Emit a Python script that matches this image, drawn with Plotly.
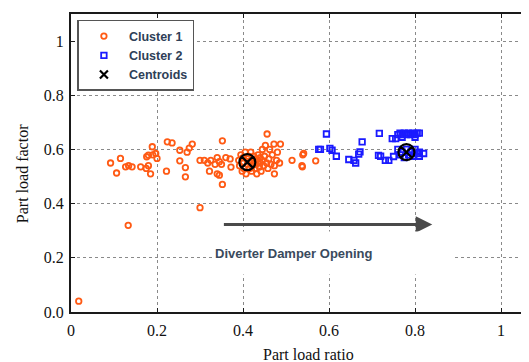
import plotly.graph_objects as go

# Cluster 1 (orange circles)
c1_x = [0.018, 0.133, 0.300,
        0.092, 0.106, 0.115, 0.127, 0.134, 0.142, 0.162, 0.176, 0.180, 0.189, 0.190, 0.197, 0.200,
        0.180, 0.185, 0.175, 0.224, 0.235, 0.222, 0.253, 0.253, 0.266, 0.266, 0.270, 0.275, 0.282,
        0.300, 0.310, 0.318, 0.325, 0.322, 0.335, 0.340, 0.345, 0.350, 0.352, 0.352, 0.340, 0.345,
        0.360, 0.370, 0.372,
        0.390, 0.392, 0.395, 0.398, 0.400, 0.400, 0.402, 0.405, 0.407, 0.410, 0.410, 0.412, 0.415,
        0.415, 0.418, 0.420, 0.420, 0.422, 0.425, 0.425, 0.428, 0.430, 0.430, 0.432, 0.435, 0.435,
        0.438, 0.440, 0.440, 0.442, 0.445, 0.445, 0.448, 0.450, 0.452, 0.455, 0.456, 0.458, 0.460,
        0.462, 0.465, 0.468, 0.472, 0.473, 0.473, 0.478, 0.487, 0.480, 0.485,
        0.514, 0.537, 0.539, 0.569, 0.541, 0.538]
c1_y = [0.040, 0.320, 0.385,
        0.550, 0.513, 0.567, 0.536, 0.540, 0.536, 0.536, 0.573, 0.579, 0.610, 0.580, 0.585, 0.567,
        0.540, 0.510, 0.530, 0.628, 0.624, 0.520, 0.597, 0.558, 0.533, 0.499, 0.590, 0.605, 0.620,
        0.560, 0.560, 0.550, 0.560, 0.520, 0.545, 0.570, 0.555, 0.545, 0.632, 0.471, 0.510, 0.505,
        0.570, 0.565, 0.535,
        0.560, 0.540, 0.580, 0.520, 0.570, 0.550, 0.530, 0.590, 0.510, 0.565, 0.545, 0.575, 0.530,
        0.555, 0.590, 0.520, 0.560, 0.540, 0.575, 0.550, 0.530, 0.565, 0.545, 0.510, 0.580, 0.555,
        0.535, 0.570, 0.550, 0.520, 0.560, 0.600, 0.540, 0.575, 0.615, 0.550, 0.657, 0.530, 0.565,
        0.600, 0.545, 0.580, 0.620, 0.540, 0.510, 0.560, 0.620, 0.590, 0.550,
        0.560, 0.540, 0.580, 0.558, 0.585, 0.536]

# Cluster 2 (blue squares)
c2_x = [0.576, 0.580, 0.594, 0.602, 0.607, 0.617, 0.646, 0.658, 0.662, 0.669, 0.672, 0.677,
        0.715, 0.717, 0.720, 0.731, 0.739, 0.747, 0.750, 0.755,
        0.760, 0.765, 0.770, 0.775, 0.780, 0.785, 0.790, 0.795, 0.800, 0.805, 0.810,
        0.760, 0.765, 0.770, 0.775, 0.780, 0.785, 0.790, 0.795, 0.800, 0.805, 0.810, 0.820,
        0.770, 0.800, 0.810]
c2_y = [0.600, 0.600, 0.657, 0.604, 0.597, 0.575, 0.563, 0.560, 0.550, 0.583, 0.591, 0.628,
        0.578, 0.659, 0.575, 0.560, 0.560, 0.640, 0.574, 0.640,
        0.655, 0.660, 0.655, 0.660, 0.655, 0.660, 0.655, 0.660, 0.655, 0.660, 0.660,
        0.600, 0.580, 0.590, 0.570, 0.600, 0.580, 0.590, 0.575, 0.600, 0.585, 0.590, 0.585,
        0.645, 0.645, 0.575]

# Centroids
cen_x = [0.410, 0.780]
cen_y = [0.553, 0.590]

x_ticks = [0, 0.2, 0.4, 0.6, 0.8, 1]
x_tick_text = ["0", "0.2", "0.4", "0.6", "0.8", "1"]
y_ticks = [0, 0.2, 0.4, 0.6, 0.8, 1]
y_tick_text = ["0.0", "0.2", "0.4", "0.6", "0.8", "1"]

ORANGE = "#ff5a14"
BLUE = "#1a1aff"
LEG_TXT = "#2e4057"
SERIF = "Liberation Serif, Times New Roman, serif"
SANS = "Liberation Sans, Arial, sans-serif"

fig = go.Figure()
fig.add_trace(go.Scatter(
    x=c1_x, y=c1_y, mode="markers", name="Cluster 1",
    marker=dict(symbol="circle-open", size=5.5, color=ORANGE, line=dict(width=1.8, color=ORANGE)),
))
fig.add_trace(go.Scatter(
    x=c2_x, y=c2_y, mode="markers", name="Cluster 2",
    marker=dict(symbol="square-open", size=5.5, color=BLUE, line=dict(width=1.8, color=BLUE)),
))
fig.add_trace(go.Scatter(
    x=cen_x, y=cen_y, mode="markers", name="Centroids", showlegend=False,
    marker=dict(symbol="circle-x-open", size=16, color="black", line=dict(width=2.2, color="black")),
))
fig.add_trace(go.Scatter(
    x=[None], y=[None], mode="markers", name="Centroids",
    marker=dict(symbol="x-thin-open", size=8, color="black", line=dict(width=2.2, color="black")),
))

# arrow
fig.add_annotation(
    x=0.84, y=0.323, ax=0.352, ay=0.323, xref="x", yref="y", axref="x", ayref="y",
    text="", showarrow=True, arrowhead=2, arrowsize=1.1, arrowwidth=3, arrowcolor="#4a4a4a",
)
# text box
fig.add_annotation(
    x=0.331, y=0.216, xref="x", yref="y", xanchor="left", yanchor="middle",
    text="Diverter Damper Opening", showarrow=False, align="left",
    width=238, height=40, bgcolor="white",
    font=dict(family=SANS, size=13, color="#3a4a5c", weight="bold"),
)
# axis titles
fig.add_annotation(
    x=0.5186, y=-0.141, xref="paper", yref="paper", xanchor="center", yanchor="middle",
    text="Part load ratio", showarrow=False,
    font=dict(family=SERIF, size=16, color="#111"),
)
fig.add_annotation(
    x=-0.107, y=0.466, xref="paper", yref="paper", xanchor="center", yanchor="middle",
    text="Part load factor", showarrow=False, textangle=-90,
    font=dict(family=SERIF, size=16, color="#111"),
)

axis_common = dict(
    showgrid=True, gridcolor="#8a8a8a", griddash="dot", gridwidth=1,
    zeroline=False, showline=True, linecolor="#1a1a1a", linewidth=2,
    ticks="inside", ticklen=4, tickcolor="#1a1a1a", tickwidth=1.2,
    tickfont=dict(family=SERIF, size=16, color="#111"),
    automargin=False,
)

fig.update_xaxes(
    **axis_common, range=[0, 1.065], tickvals=x_ticks, ticktext=x_tick_text,
    mirror="ticks", ticklabelstandoff=3,
)
fig.update_yaxes(
    **axis_common, range=[0, 1.1], tickvals=y_ticks, ticktext=y_tick_text,
    mirror=False, ticklabelstandoff=2,
)

fig.update_layout(
    width=521, height=354,
    margin=dict(l=63, r=0, t=6, b=50),
    paper_bgcolor="white", plot_bgcolor="white",
    legend=dict(
        x=0.014, y=0.98, xanchor="left", yanchor="top",
        bgcolor="white", bordercolor="#555", borderwidth=1.5,
        font=dict(family=SANS, size=12.5, color=LEG_TXT, weight="bold"),
        itemwidth=40, tracegroupgap=0,
    ),
)

fig.write_html("out.html")
